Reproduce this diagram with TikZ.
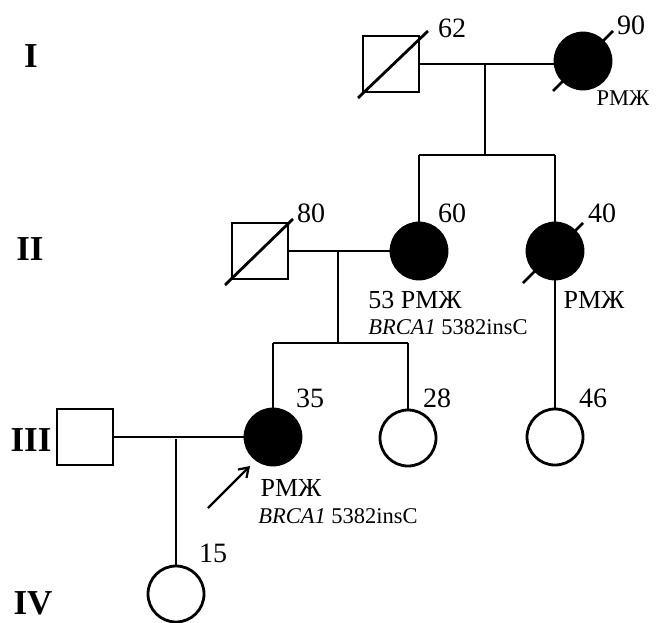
\documentclass[tikz,border=0pt]{standalone}
\usepackage{fontspec}
\setmainfont{Liberation Serif}
\usetikzlibrary{arrows.meta}
\begin{document}
\begin{tikzpicture}[x=1pt,y=-1pt,line width=2.8pt,
  male/.style={draw,rectangle,minimum size=56pt,inner sep=0pt,line width=2.8pt},
  fem/.style={draw,circle,minimum size=56pt,inner sep=0pt,line width=2.8pt},
  aff/.style={fill=black},
  gen/.style={font=\fontsize{35}{35}\selectfont\bfseries,inner sep=0pt},
  age/.style={font=\fontsize{28}{28}\selectfont,inner sep=0pt},
  lab/.style={font=\fontsize{26}{26}\selectfont,inner sep=0pt},
  mut/.style={font=\fontsize{22.5}{22.5}\selectfont,inner sep=0pt},
  dead/.style={line width=2.8pt,line cap=butt}]
\useasboundingbox (0,0) rectangle (656,622);
% generation labels
\node[gen] (g1) at (31,56) {I};
\node[gen] (g2) at (30,249) {II};
\node[gen] (g3) at (31,440) {III};
\node[gen] (g4) at (33,603) {IV};
% generation I
\node[male] (m1) at (391,64) {};
\node[fem,aff] (f1) at (583,61) {};
\coordinate (s1a) at (358,98); \coordinate (s1b) at (428,31);
\draw[dead] (s1a) -- (s1b);
\coordinate (s2a) at (553,91); \coordinate (s2b) at (613,31);
\draw[dead] (s2a) -- (s2b);
\node[age] (a62) at (452,28) {62};
\node[age] (a90) at (631,25) {90};
\node[mut] (l90) at (623,98) {РМЖ};
\coordinate (c1) at (485,65);
\draw (m1.east) -- (m1.east -| f1.west);
\coordinate (sib1) at (485,155);
\coordinate (sib1a) at (419,155); \coordinate (sib1b) at (555,155);
\draw (c1) -- (sib1);
\draw (sib1a) -- (sib1b);
% generation II
\node[male] (m2) at (260,251) {};
\node[fem,aff] (f2) at (419,251) {};
\node[fem,aff] (f3) at (555,251) {};
\draw (sib1a) -- (f2.north);
\draw (sib1b) -- (f3.north);
\coordinate (s3a) at (225,285); \coordinate (s3b) at (293,219);
\draw[dead] (s3a) -- (s3b);
\coordinate (s4a) at (523,283); \coordinate (s4b) at (583,223);
\draw[dead] (s4a) -- (s4b);
\node[age] (a80) at (311,213) {80};
\node[age] (a60) at (452,213) {60};
\node[age] (a40) at (602,213) {40};
\node[lab] (l60) at (415,300) {53 РМЖ};
\node[mut] (m60) at (448,327) {\textit{BRCA1} 5382insC};
\node[lab] (l40) at (594,300) {РМЖ};
\draw (m2.east) -- (f2.west);
\coordinate (c2) at (338,252);
\coordinate (sib2) at (338,343);
\coordinate (sib2a) at (273,343); \coordinate (sib2b) at (408,343);
\draw (c2) -- (sib2);
\draw (sib2a) -- (sib2b);
% generation III
\node[male] (m3) at (85,437) {};
\node[fem,aff] (f4) at (273,437) {};
\node[fem] (f5) at (408,438) {};
\node[fem] (f6) at (555,437) {};
\draw (sib2a) -- (f4.north);
\draw (sib2b) -- (f5.north);
\draw (f3.south) -- (f6.north);
\node[age] (a35) at (310,398) {35};
\node[age] (a28) at (437,398) {28};
\node[age] (a46) at (593,398) {46};
\node[lab] (l35) at (291,488) {РМЖ};
\node[mut] (m35) at (338,516) {\textit{BRCA1} 5382insC};
\coordinate (ar1) at (208,508); \coordinate (ar2) at (250,466);
\draw[line width=2.2pt,-{Straight Barb[length=9pt,width=12pt]}] (ar1) -- (ar2);
\draw (m3.east) -- (f4.west);
\coordinate (c3) at (176,439);
% generation IV
\node[fem] (f7) at (176,594) {};
\draw (c3) -- (f7.north);
\node[age] (a15) at (213,553) {15};
\end{tikzpicture}
\end{document}
